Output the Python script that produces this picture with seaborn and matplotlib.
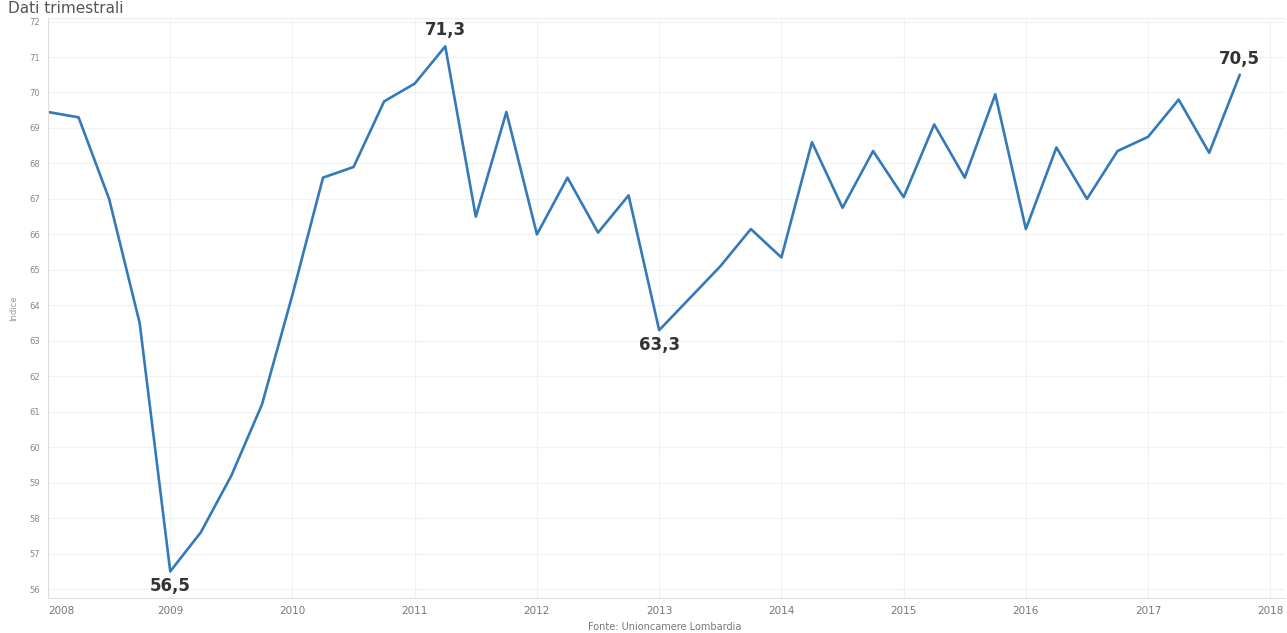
import matplotlib.pyplot as plt
import seaborn as sns
import pandas as pd

# Dati trimestrali (2008 T1 - 2017 T4)
anni = [2008]*4 + [2009]*4 + [2010]*4 + [2011]*4 + [2012]*4 + [2013]*4 + [2014]*4 + [2015]*4 + [2016]*4 + [2017]*4
trimestri = [1, 2, 3, 4] * 10
indice = [69.45, 69.3, 67.0, 63.5,
          56.5, 57.6, 59.2, 61.2,
          64.3, 67.6, 67.9, 69.75,
          70.25, 71.3, 66.5, 69.45,
          66.0, 67.6, 66.05, 67.1,
          63.3, 64.2, 65.1, 66.15,
          65.35, 68.6, 66.75, 68.35,
          67.05, 69.1, 67.6, 69.95,
          66.15, 68.45, 67.0, 68.35,
          68.75, 69.8, 68.3, 70.5]
etichette = {5: '56,5', 14: '71,3', 21: '63,3', 40: '70,5'}  # posizione (1-based) -> testo
sopra = [14, 40]

df = pd.DataFrame({'anno': anni, 'trim': trimestri, 'indice': indice})
df['t'] = df['anno'] + (df['trim'] - 1) / 4

sns.set_style('white')
fig = plt.figure(figsize=(12.87, 6.33), dpi=100)
ax = fig.add_axes([48/1287, 1 - 598/633, 1237/1287, 580/633])

sns.lineplot(data=df, x='t', y='indice', color='#3479b8', linewidth=1.9, ax=ax)

for pos, txt in etichette.items():
    r = df.iloc[pos - 1]
    if pos in sopra:
        ax.annotate(txt, (r['t'], r['indice']), xytext=(0, 5), textcoords='offset points',
                    ha='center', va='bottom', fontsize=12, fontweight='bold', color='#333333')
    else:
        ax.annotate(txt, (r['t'], r['indice']), xytext=(0, -4), textcoords='offset points',
                    ha='center', va='top', fontsize=12, fontweight='bold', color='#333333')

ax.set_xlim(2008, 2018.12)
ax.set_ylim(55.75, 72.1)
ax.set_xticks(range(2008, 2019))
ax.set_xticklabels([str(a) for a in range(2008, 2019)])
ax.get_xticklabels()[0].set_horizontalalignment('left')
ax.set_yticks(range(56, 73))
ax.tick_params(axis='x', labelsize=7.5, colors='#777777', length=0, pad=6)
ax.tick_params(axis='y', labelsize=6, colors='#888888', length=0, pad=6)
ax.grid(True, color='#f1f1f1', linewidth=0.8)
ax.set_xlabel('')
ax.set_ylabel('Indice', fontsize=6, color='#999999', labelpad=8)

for s in ['left', 'bottom']:
    ax.spines[s].set_color('#dddddd')
ax.spines['top'].set_color('#eeeeee')
ax.spines['right'].set_visible(False)

fig.text(0.006, 0.999, 'Dati trimestrali', fontsize=11, color='#555555', va='top', ha='left')
fig.text(665/1287, 1 - 627/633, 'Fonte: Unioncamere Lombardia', fontsize=7, color='#777777',
         ha='center', va='center')

fig.savefig('out.png', dpi=100)
